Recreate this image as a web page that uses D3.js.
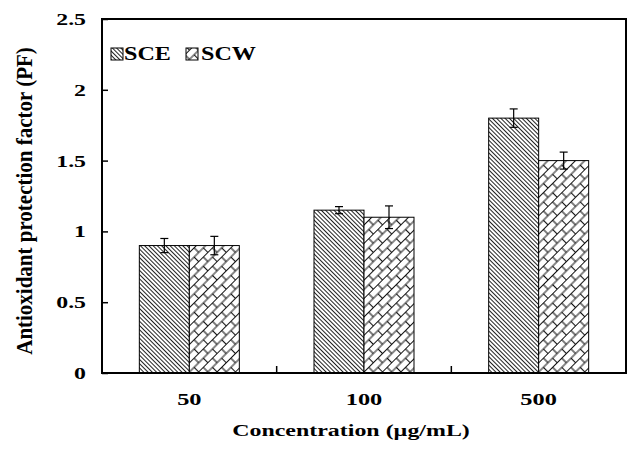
<!DOCTYPE html>
<html><head><meta charset="utf-8">
<script src="https://cdn.jsdelivr.net/npm/d3@7"></script>
<style>body{margin:0;background:#fff}text{font-family:"Liberation Serif","Times New Roman",serif;font-weight:bold;fill:#000}</style>
</head><body>
<svg id="c" width="634" height="450"></svg>
<script>
const categories = ["50", "100", "500"];
const seriesNames = ["SCE", "SCW"];
const sceValues = [0.90, 1.15, 1.80];
const sceErrors = [0.05, 0.025, 0.065];
const scwValues = [0.90, 1.10, 1.50];
const scwErrors = [0.065, 0.08, 0.06];
const yTicks = [0, 0.5, 1, 1.5, 2, 2.5];
const yTickLabels = ["0", "0.5", "1", "1.5", "2", "2.5"];

const svg = d3.select("#c");
const L = 102, R = 626, T = 19, B = 373;

const defs = svg.append("defs");
const p1 = defs.append("pattern").attr("id","pSCE").attr("patternUnits","userSpaceOnUse")
  .attr("width",3).attr("height",3).attr("patternTransform","rotate(-45)");
p1.append("rect").attr("width",3).attr("height",3).attr("fill","#fff");
p1.append("line").attr("x1",0.5).attr("y1",0).attr("x2",0.5).attr("y2",3).attr("stroke","#222").attr("stroke-width",1);

const p2 = defs.append("pattern").attr("id","pSCW").attr("patternUnits","userSpaceOnUse")
  .attr("width",13).attr("height",13).attr("patternTransform","rotate(-45)");
p2.append("rect").attr("width",13).attr("height",13).attr("fill","#fff");
p2.append("path").attr("d","M0,0.5H13M0,7H13M1,0.5V7M7.5,7V13").attr("stroke","#111").attr("stroke-width",1.1).attr("fill","none");

const x = d3.scaleBand().domain(categories).range([L, R]).paddingInner(0.4275).paddingOuter(0.21375);
const xs = d3.scaleBand().domain(seriesNames).range([0, x.bandwidth()]);
const y = d3.scaleLinear().domain([0, 2.5]).range([B, T]);

const data = [];
categories.forEach((c, i) => {
  data.push({c, s: "SCE", v: sceValues[i], e: sceErrors[i]});
  data.push({c, s: "SCW", v: scwValues[i], e: scwErrors[i]});
});

const fills = {SCE: "url(#pSCE)", SCW: "url(#pSCW)"};

svg.selectAll("rect.bar").data(data).enter().append("rect").attr("class","bar")
  .attr("x", d => x(d.c) + xs(d.s)).attr("width", xs.bandwidth())
  .attr("y", d => y(d.v)).attr("height", d => y(0) - y(d.v))
  .attr("fill", d => fills[d.s]).attr("stroke", "#000").attr("stroke-width", 1);

// error bars
const eb = svg.append("g").attr("stroke","#000").attr("stroke-width",1.2);
data.forEach(d => {
  const cx = x(d.c) + xs(d.s) + xs.bandwidth()/2;
  eb.append("line").attr("x1",cx).attr("x2",cx).attr("y1",y(d.v+d.e)).attr("y2",y(d.v-d.e));
  eb.append("line").attr("x1",cx-4).attr("x2",cx+4).attr("y1",y(d.v+d.e)).attr("y2",y(d.v+d.e));
  eb.append("line").attr("x1",cx-4).attr("x2",cx+4).attr("y1",y(d.v-d.e)).attr("y2",y(d.v-d.e));
});

// frame
svg.append("rect").attr("x",L).attr("y",T).attr("width",R-L).attr("height",B-T)
  .attr("fill","none").attr("stroke","#000").attr("stroke-width",2);

// horizontally stretched text helper
function stext(parent, px, py, s, size, anchor, str){
  return parent.append("text").attr("transform",`translate(${px},${py}) scale(${s},1)`)
    .attr("text-anchor",anchor).attr("font-size",size).text(str);
}

// y axis
const yAxis = d3.axisLeft(y).tickValues(yTicks).tickSize(-6).tickFormat("");
const gy = svg.append("g").attr("transform",`translate(${L},0)`).call(yAxis);
gy.select(".domain").remove();
gy.selectAll(".tick line").attr("stroke","#000").attr("stroke-width",1.5);
yTicks.forEach((v, i) => stext(svg, 86, y(v) + 6, 1.4, 17, "end", yTickLabels[i]));

// x axis
const xAxis = d3.axisBottom(x).tickSize(0).tickFormat("");
const gx = svg.append("g").attr("transform",`translate(0,${B})`).call(xAxis);
gx.select(".domain").remove();
categories.forEach(c => stext(svg, x(c) + x.bandwidth()/2, 405, 1.48, 16.5, "middle", c));
// category boundary ticks (inward)
categories.slice(1).forEach(c => {
  const bx = x(c) - x.step()*x.paddingInner()/2;
  svg.append("line").attr("x1",bx).attr("x2",bx).attr("y1",B).attr("y2",B-7).attr("stroke","#000").attr("stroke-width",1.5);
});

// titles
stext(svg, 351, 436, 1.45, 16.5, "middle", "Concentration (µg/mL)");
svg.append("text").attr("transform","translate(32,201) scale(1.12,1) rotate(-90)").attr("text-anchor","middle")
  .attr("font-size",21).text("Antioxidant protection factor (PF)");

// legend
const leg = svg.append("g");
const legX = [111, 186], legTX = [124, 201];
seriesNames.forEach((s, i) => {
  leg.append("rect").attr("x",legX[i]).attr("y",48).attr("width",12).attr("height",12)
    .attr("fill",fills[s]).attr("stroke","#000").attr("stroke-width",1);
  stext(leg, legTX[i], 60, 1.27, 19, "start", s);
});
</script>
</body></html>
